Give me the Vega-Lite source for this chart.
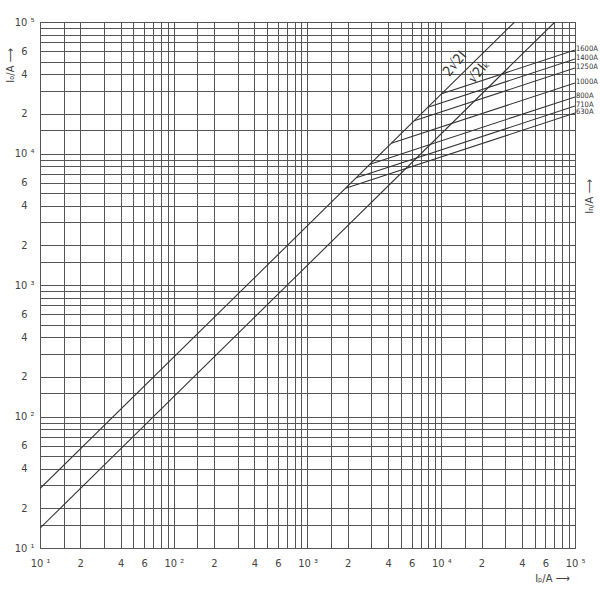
{
  "$schema": "https://vega.github.io/schema/vega-lite/v6.json",
  "width": 535,
  "height": 526,
  "autosize": "none",
  "padding": {"left": 40, "top": 22, "right": 25, "bottom": 52},
  "background": "white",
  "config": {
    "view": {"stroke": "#444", "strokeWidth": 1},
    "font": "'DejaVu Sans Condensed', 'Liberation Sans Narrow', 'DejaVu Sans', sans-serif"
  },
  "datasets": {
    "curves": [
      {"s": "2r2", "ip": 10, "ic": 28.28},
      {"s": "2r2", "ip": 35355, "ic": 100000},
      {"s": "r2", "ip": 10, "ic": 14.14},
      {"s": "r2", "ip": 70711, "ic": 100000},
      {"s": "1600A", "ip": 10075, "ic": 28496},
      {"s": "1600A", "ip": 100000, "ic": 61240},
      {"s": "1400A", "ip": 7955, "ic": 22500},
      {"s": "1400A", "ip": 100000, "ic": 52320},
      {"s": "1250A", "ip": 6275, "ic": 17748},
      {"s": "1250A", "ip": 100000, "ic": 44660},
      {"s": "1000A", "ip": 4232, "ic": 11970},
      {"s": "1000A", "ip": 100000, "ic": 34350},
      {"s": "800A", "ip": 2933, "ic": 8296},
      {"s": "800A", "ip": 100000, "ic": 26900},
      {"s": "710A", "ip": 2315, "ic": 6548},
      {"s": "710A", "ip": 100000, "ic": 22970},
      {"s": "630A", "ip": 1926, "ic": 5448},
      {"s": "630A", "ip": 100000, "ic": 20320}
    ],
    "fuseLabels": [
      {"label": "1600A", "ip": 100000, "ic": 61240},
      {"label": "1400A", "ip": 100000, "ic": 52320},
      {"label": "1250A", "ip": 100000, "ic": 44660},
      {"label": "1000A", "ip": 100000, "ic": 34350},
      {"label": "800A", "ip": 100000, "ic": 26900},
      {"label": "710A", "ip": 100000, "ic": 22970},
      {"label": "630A", "ip": 100000, "ic": 20320}
    ],
    "diagLabels": [
      {"t": "2√2I", "ip": 12680, "ic": 47960},
      {"t": "√2Iₖ", "ip": 19140, "ic": 41700}
    ]
  },
  "layer": [
    {
      "data": {"name": "curves"},
      "mark": {"type": "line", "color": "#333", "strokeWidth": 1.1, "clip": true},
      "encoding": {
        "x": {
          "field": "ip", "type": "quantitative",
          "scale": {"type": "log", "domain": [10, 100000], "nice": false},
          "axis": {
            "values": [10,15,20,30,40,50,60,70,80,90,100,150,200,300,400,500,600,700,800,900,1000,1500,2000,3000,4000,5000,6000,7000,8000,9000,10000,15000,20000,30000,40000,50000,60000,70000,80000,90000,100000],
            "grid": true, "gridColor": "#555", "gridWidth": 1, "gridOpacity": 1,
            "ticks": false, "domain": false,
            "labelExpr": "datum.value===10?'10 ¹':datum.value===100?'10 ²':datum.value===1000?'10 ³':datum.value===10000?'10 ⁴':datum.value===100000?'10 ⁵':indexof([20,200,2000,20000],datum.value)>=0?'2':indexof([40,400,4000,40000],datum.value)>=0?'4':indexof([60,600,6000,60000],datum.value)>=0?'6':''",
            "labelOverlap": false, "labelFlush": false, "labelBound": false,
            "labelFontSize": 11, "labelColor": "#444", "labelPadding": 9,
            "title": "Iₚ/A ⟶", "titleFontSize": 11, "titleFontWeight": "normal", "titleColor": "#444",
            "titleX": 512, "titleY": 30, "titleAlign": "center", "titleBaseline": "middle", "titleAngle": 0
          }
        },
        "y": {
          "field": "ic", "type": "quantitative",
          "scale": {"type": "log", "domain": [10, 100000], "nice": false},
          "axis": {
            "orient": "left",
            "values": [10,15,20,30,40,50,60,70,80,90,100,150,200,300,400,500,600,700,800,900,1000,1500,2000,3000,4000,5000,6000,7000,8000,9000,10000,15000,20000,30000,40000,50000,60000,70000,80000,90000,100000],
            "grid": true, "gridColor": "#555", "gridWidth": 1, "gridOpacity": 1,
            "ticks": false, "domain": false,
            "labelExpr": "datum.value===10?'10 ¹':datum.value===100?'10 ²':datum.value===1000?'10 ³':datum.value===10000?'10 ⁴':datum.value===100000?'10 ⁵':indexof([20,200,2000,20000],datum.value)>=0?'2':indexof([40,400,4000,40000],datum.value)>=0?'4':indexof([60,600,6000,60000],datum.value)>=0?'6':''",
            "labelOverlap": false, "labelFlush": false, "labelBound": false,
            "labelFontSize": 11, "labelColor": "#444", "labelPadding": 16,
            "labelAlign": "center", "labelBaseline": "middle",
            "title": "Iₒ/A ⟶", "titleFontSize": 11, "titleFontWeight": "normal", "titleColor": "#444",
            "titleX": -30, "titleY": 43, "titleAlign": "center", "titleBaseline": "middle", "titleAngle": 270
          }
        },
        "detail": {"field": "s"}
      }
    },
    {
      "data": {"name": "fuseLabels"},
      "mark": {"type": "text", "align": "left", "baseline": "middle", "dx": 1, "dy": -1, "fontSize": 7.5, "color": "#333"},
      "encoding": {
        "x": {"field": "ip", "type": "quantitative", "scale": {"type": "log", "domain": [10, 100000], "nice": false}},
        "y": {
          "field": "ic", "type": "quantitative",
          "scale": {"type": "log", "domain": [10, 100000], "nice": false},
          "axis": {
            "orient": "right", "labels": false, "ticks": false, "domain": false, "grid": false,
            "title": "Iₙ/A ⟶", "titleFontSize": 11, "titleFontWeight": "normal", "titleColor": "#444",
            "titleX": 14, "titleY": 174, "titleAlign": "center", "titleBaseline": "middle", "titleAngle": 270
          }
        },
        "text": {"field": "label"}
      }
    },
    {
      "data": {"name": "diagLabels"},
      "mark": {"type": "text", "align": "center", "baseline": "middle", "angle": 310, "fontSize": 14, "color": "#333"},
      "encoding": {
        "x": {"field": "ip", "type": "quantitative", "scale": {"type": "log", "domain": [10, 100000], "nice": false}},
        "y": {"field": "ic", "type": "quantitative", "scale": {"type": "log", "domain": [10, 100000], "nice": false}, "axis": null},
        "text": {"field": "t"}
      }
    }
  ],
  "resolve": {"axis": {"y": "independent"}}
}
